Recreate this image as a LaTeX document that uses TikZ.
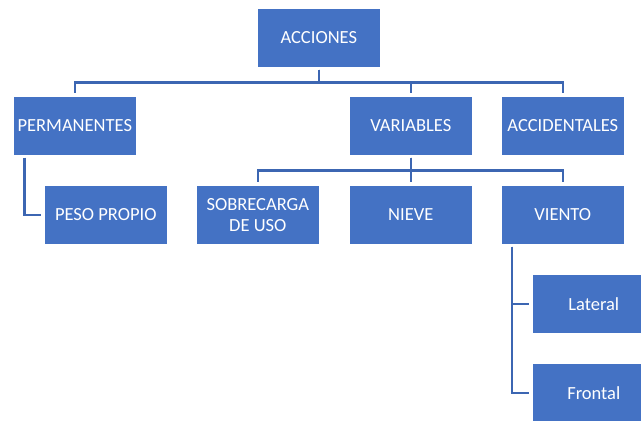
\documentclass[tikz,border=0pt]{standalone}
\usepackage{fontspec}
\setmainfont{Carlito}
\definecolor{boxblue}{HTML}{4472C4}
\definecolor{lineblue}{HTML}{3C66B2}
\begin{document}
\begin{tikzpicture}[x=1pt,y=1pt,
  box/.style={draw=white, line width=0.6pt, fill=boxblue, text=white, minimum width=123pt, minimum height=59pt, inner sep=0pt, anchor=north west, align=center, font=\fontsize{18.5}{21}\selectfont},
  conn/.style={draw=lineblue, line width=2.6pt, shorten <=2pt, shorten >=3pt}]
\useasboundingbox (0,0) rectangle (641,-421);
\clip (0,0) rectangle (641,-421);
\node[box] (acc) at (257,-8) {ACCIONES};
\node[box] (perm) at (13,-96) {PERMANENTES};
\node[box] (var) at (349,-96) {VARIABLES};
\node[box] (accid) at (501,-96) {ACCIDENTALES};
\node[box] (peso) at (44,-185) {PESO PROPIO};
\node[box] (sobre) at (196,-185) {SOBRECARGA\\DE USO};
\node[box] (nieve) at (349,-185) {NIEVE};
\node[box] (viento) at (501,-185) {VIENTO};
\node[box] (lat) at (532,-274) {Lateral};
\node[box] (front) at (532,-363) {Frontal};
\draw[conn] (acc.south) -- ++(0,-15) -| (perm.north);
\draw[conn] (acc.south) -- ++(0,-15) -| (var.north);
\draw[conn] (acc.south) -- ++(0,-15) -| (accid.north);
\draw[conn] (var.south) -- ++(0,-15) -| (sobre.north);
\draw[conn] (var.south) -- ++(0,-15) -| (nieve.north);
\draw[conn] (var.south) -- ++(0,-15) -| (viento.north);
\draw[conn] ([xshift=-50.5pt]perm.south) |- (peso.west);
\draw[conn] ([xshift=-51pt]viento.south) |- (lat.west);
\draw[conn] ([xshift=-51pt]viento.south) |- (front.west);
\end{tikzpicture}
\end{document}
